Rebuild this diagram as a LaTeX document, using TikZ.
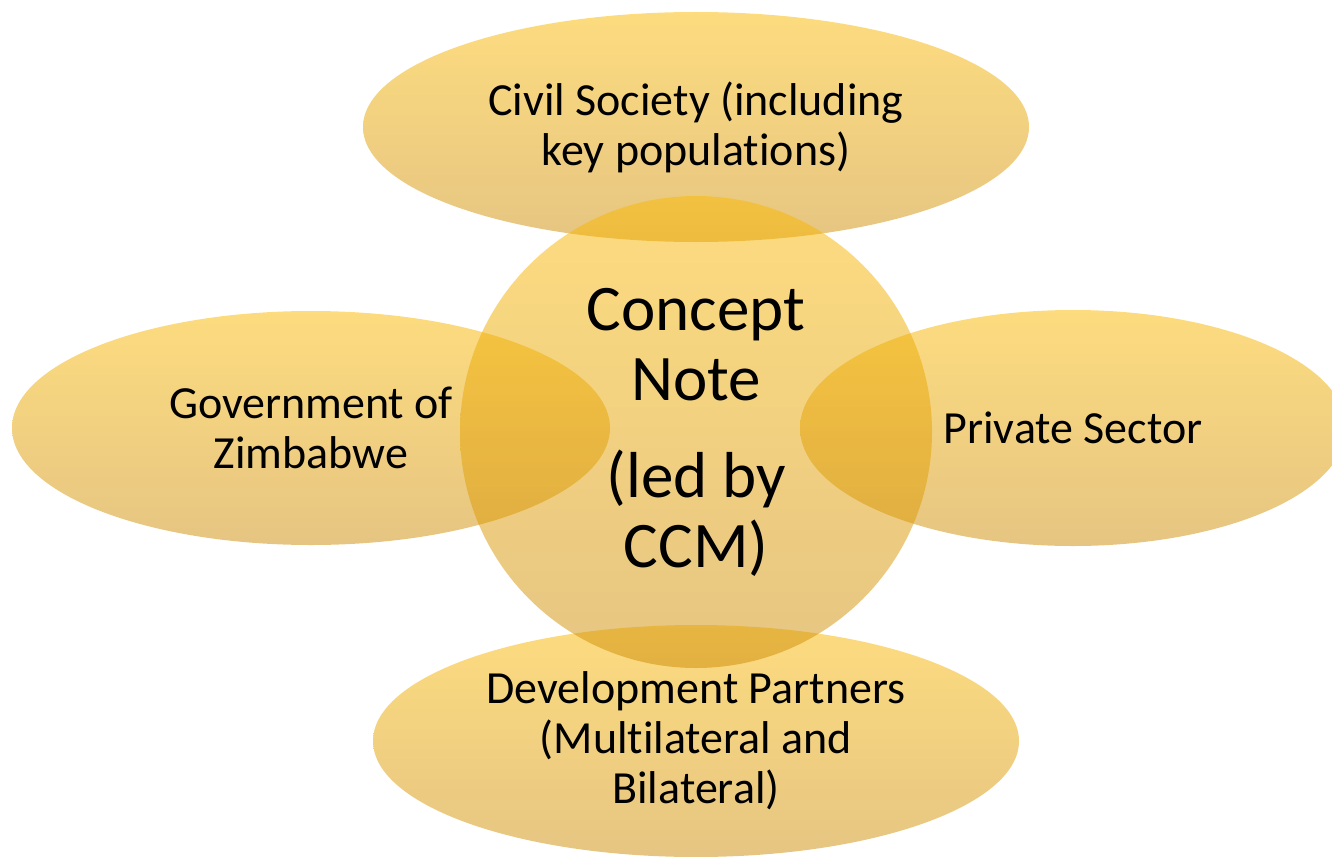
\documentclass[tikz,border=0pt]{standalone}
\usepackage{fontspec}
\setmainfont{Carlito}[Ligatures=NoCommon]
\usetikzlibrary{shapes.geometric}
\definecolor{goldtop}{RGB}{251,185,0}
\definecolor{goldbot}{RGB}{205,139,5}
\tikzset{
  venn/.style={ellipse, inner sep=0pt, top color=goldtop, bottom color=goldbot,
    fill opacity=0.5, text opacity=1, align=center, text=black,
    font=\fontsize{46}{50}\selectfont},
}
\begin{document}
\begin{tikzpicture}[x=1pt,y=-1pt]
\useasboundingbox (0,0) rectangle (1332,856);
\begin{scope}
\clip (0,0) rectangle (1332,856);
\node[venn, minimum width=666pt, minimum height=230pt] (civil) at (696,127)
  {Civil Society (including\\key populations)};
\node[venn, minimum width=598pt, minimum height=234pt] (gov) at (311,428)
  {Government of\\Zimbabwe};
\node[venn, minimum width=546pt, minimum height=236pt] (priv) at (1073,428)
  {Private Sector};
\node[venn, minimum width=646pt, minimum height=232pt] (dev) at (696,741)
  {Development Partners\\(Multilateral and\\Bilateral)};
\node[venn, circle, minimum size=472pt, font=\fontsize{65}{70}\selectfont] (cn) at (696,432)
  {Concept\\Note\\[27pt](led by\\CCM)};
\end{scope}
\end{tikzpicture}
\end{document}
